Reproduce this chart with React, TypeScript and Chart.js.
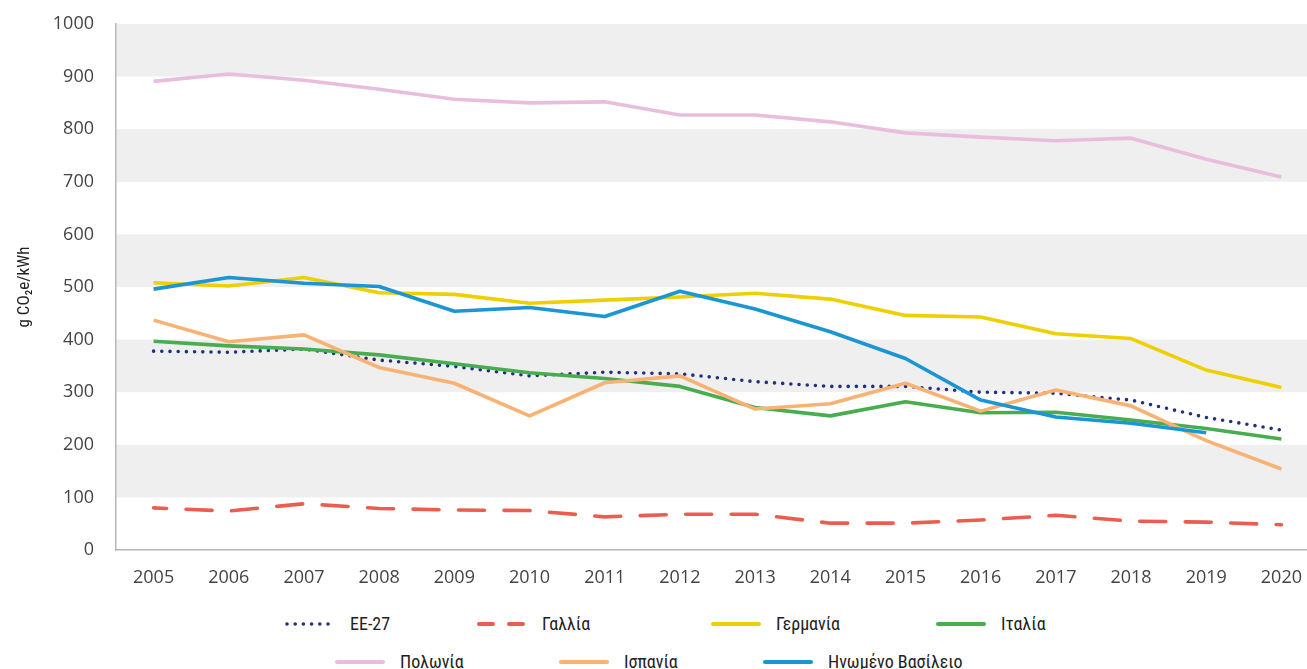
import React, { useEffect, useRef } from "react";
import { Chart, registerables } from "chart.js";
Chart.register(...registerables);

const years = ["2005", "2006", "2007", "2008", "2009", "2010", "2011", "2012", "2013", "2014", "2015", "2016", "2017", "2018", "2019", "2020"];
const eu27 = [378, 376, 382, 361, 349, 331, 338, 335, 320, 311, 311, 300, 298, 285, 252, 228];
const france = [80, 74, 88, 79, 76, 75, 63, 68, 68, 51, 51, 57, 66, 55, 53, 48];
const germany = [508, 502, 518, 489, 486, 469, 475, 481, 488, 477, 446, 443, 411, 402, 342, 309];
const italy = [397, 388, 382, 371, 354, 337, 326, 311, 271, 255, 282, 261, 262, 247, 231, 211];
const poland = [891, 905, 893, 876, 857, 850, 852, 827, 827, 814, 793, 785, 778, 783, 743, 709];
const spain = [437, 396, 409, 347, 317, 255, 318, 331, 268, 278, 317, 264, 304, 274, 208, 154];
const uk = [496, 518, 507, 501, 454, 461, 444, 492, 458, 415, 364, 285, 253, 241, 223, null];

const seriesNames = ["ΕΕ-27", "Γαλλία", "Γερμανία", "Ιταλία", "Πολωνία", "Ισπανία", "Ηνωμένο Βασίλειο"];
const seriesData = [eu27, france, germany, italy, poland, spain, uk];
const seriesColors = ["#22307f", "#eb5e4f", "#eecf00", "#48ad4f", "#e9bedd", "#f8b273", "#1b95d4"];
const yTitle = "g CO₂e/kWh";
const bandStarts = [100, 300, 500, 700, 900];

const legendPos = [
  { left: 285, top: 624 },
  { left: 477, top: 624 },
  { left: 711, top: 624 },
  { left: 936, top: 624 },
  { left: 335, top: 662 },
  { left: 559, top: 662 },
  { left: 763, top: 662 },
];

const narrow = "'Liberation Sans Narrow', 'Roboto Condensed', Roboto, sans-serif";

const bandPlugin = {
  id: "bands",
  beforeDraw(chart: any) {
    const { ctx, chartArea, scales } = chart;
    const y = scales.y;
    ctx.save();
    ctx.fillStyle = "#efefef";
    for (const v of bandStarts) {
      const top = y.getPixelForValue(v + 100);
      const bot = y.getPixelForValue(v);
      ctx.fillRect(chartArea.left, top, chartArea.right - chartArea.left, bot - top);
    }
    ctx.restore();
  },
};

function LegendSample({ i }: { i: number }) {
  const c = seriesColors[i];
  let dash: string | undefined;
  if (i === 0) dash = "0 8.2";
  if (i === 1) dash = "14 16";
  return (
    <svg width={50} height={8} style={{ display: "block" }}>
      <line
        x1={2}
        y1={4}
        x2={48}
        y2={4}
        stroke={c}
        strokeWidth={i === 0 ? 3.6 : 4}
        strokeLinecap="round"
        strokeDasharray={dash}
      />
    </svg>
  );
}

export default function App() {
  const ref = useRef<HTMLCanvasElement>(null);
  useEffect(() => {
    if (!ref.current) return;
    const datasets = seriesData.map((d, i) => ({
      label: seriesNames[i],
      data: d,
      borderColor: seriesColors[i],
      backgroundColor: seriesColors[i],
      borderWidth: 3.6,
      pointRadius: 0,
      tension: 0,
      fill: false,
      spanGaps: false,
      borderCapStyle: i === 0 || i === 1 ? "round" : "butt",
      borderJoinStyle: "round",
      borderDash: i === 0 ? [0, 8.2] : i === 1 ? [26, 19.5] : [],
      borderDashOffset: i === 1 ? 13 : 0,
      order: 6 - i,
    }));
    const chart = new Chart(ref.current, {
      type: "line",
      data: { labels: years, datasets: datasets as any },
      plugins: [bandPlugin],
      options: {
        animation: false,
        responsive: false,
        maintainAspectRatio: false,
        layout: { padding: { top: 24, left: 0, right: 0, bottom: 0 } },
        plugins: { legend: { display: false }, tooltip: { enabled: false } },
        scales: {
          x: {
            offset: true,
            grid: { display: false, drawTicks: false, tickLength: 0 },
            border: { display: true, color: "#b8b8b8", width: 1.5 },
            ticks: {
              color: "#444",
              font: { family: "'Open Sans', sans-serif", size: 18 },
              padding: 17,
              maxRotation: 0,
              autoSkip: false,
            },
            afterFit: (s: any) => {
              s.height = 50;
              s.paddingLeft = 0;
              s.paddingRight = 0;
            },
          },
          y: {
            min: 0,
            max: 1000,
            grid: { display: false, drawTicks: false, tickLength: 0 },
            border: { display: true, color: "#b8b8b8", width: 1.5 },
            ticks: {
              stepSize: 100,
              color: "#444",
              font: { family: "'Open Sans', sans-serif", size: 18 },
              padding: 22,
              callback: (v: any) => String(v),
            },
            title: {
              display: true,
              text: yTitle,
              color: "#222",
              font: { family: narrow, size: 17 },
              padding: { top: 15, bottom: 0 },
            },
            afterFit: (s: any) => {
              s.width = 116;
              s.paddingTop = 0;
              s.paddingBottom = 0;
            },
          },
        },
      } as any,
    });
    return () => chart.destroy();
  }, []);

  return (
    <div style={{ position: "absolute", left: 0, top: 0, width: 1307, height: 669, overflow: "hidden", background: "#fff" }}>
      <canvas ref={ref} width={1319} height={600} style={{ position: "absolute", left: 0, top: 0, width: 1319, height: 600 }} />
      {seriesNames.map((n, i) => (
        <div
          key={n}
          style={{
            position: "absolute",
            left: legendPos[i].left,
            top: legendPos[i].top,
            transform: "translateY(-50%)",
            display: "flex",
            alignItems: "center",
            whiteSpace: "nowrap",
          }}
        >
          <LegendSample i={i} />
          <span style={{ marginLeft: 15, fontFamily: narrow, fontSize: 18, color: "#222", lineHeight: "22px" }}>{n}</span>
        </div>
      ))}
    </div>
  );
}
